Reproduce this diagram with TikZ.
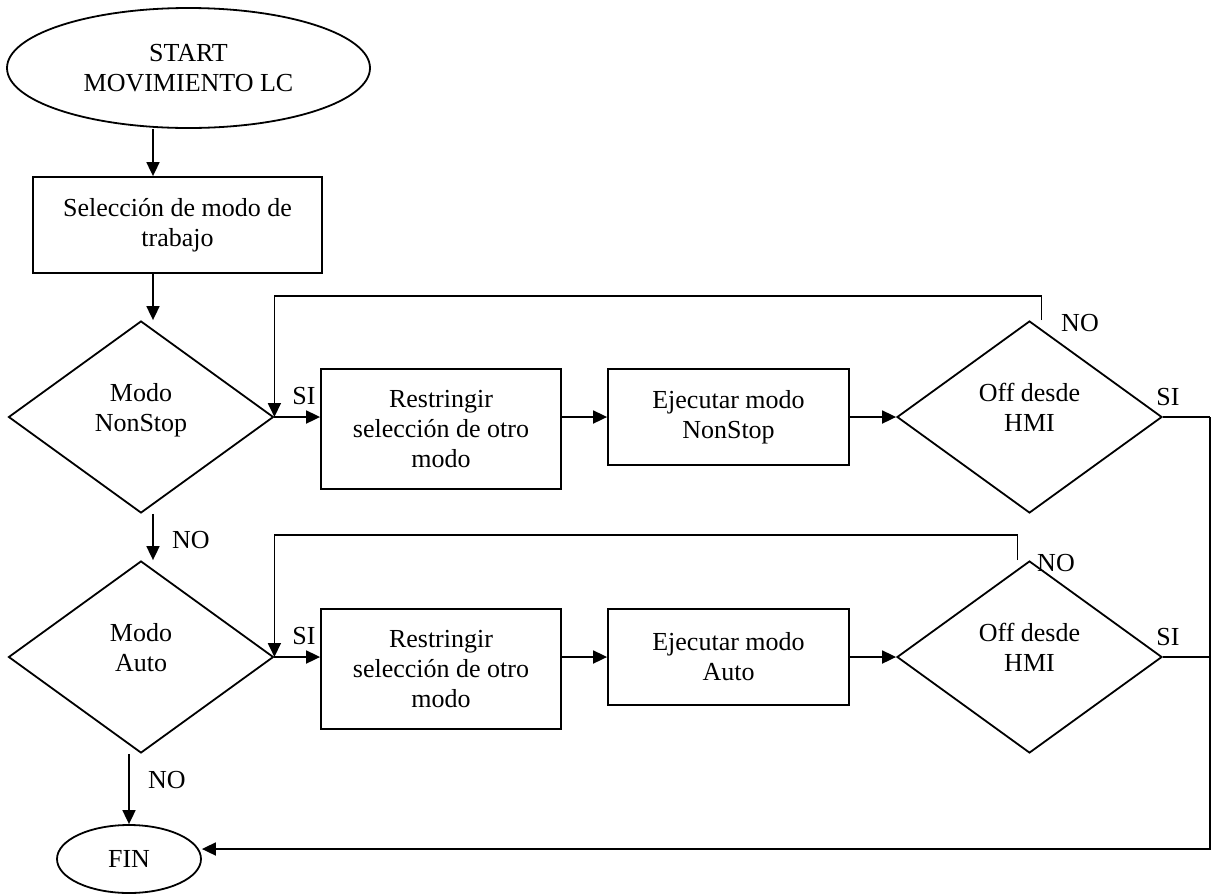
\documentclass[tikz,border=0pt]{standalone}
\usepackage{fontspec}
\setmainfont{Liberation Serif}
\usetikzlibrary{shapes.geometric,arrows.meta}
\begin{document}
\begin{tikzpicture}[x=1pt,y=-1pt,
  every node/.style={font=\fontsize{26}{30}\selectfont},
  line/.style={line width=1.8pt},
  arr/.style={line width=1.8pt,-{Triangle[length=14pt,width=13pt]}},
  term/.style={draw,ellipse,line width=1.8pt,inner sep=0pt,align=center},
  proc/.style={draw,rectangle,line width=1.8pt,inner sep=0pt,align=center},
  dec/.style={draw,diamond,aspect=1.38,line width=1.8pt,inner sep=0pt,align=center,
    text depth=19pt,minimum width=265pt,minimum height=192pt},
  lbl/.style={inner sep=0pt}]
\useasboundingbox (0,0) rectangle (1211,895);

% terminals
\node[term,minimum width=363pt,minimum height=120pt] (start) at (188.5,68) {START\\MOVIMIENTO LC};
\node[term,minimum width=144pt,minimum height=68pt] (fin) at (129,859) {FIN};

% mode selection
\node[proc,minimum width=289pt,minimum height=96pt] (sel) at (177.5,225) {Selección de modo de\\trabajo};

% NonStop branch
\node[dec] (d1) at (141,417) {Modo\\NonStop};
\node[proc,minimum width=240pt,minimum height=120pt] (r1) at (441,429) {Restringir\\selección de otro\\modo};
\node[proc,minimum width=241pt,minimum height=96pt] (e1) at (728.5,417) {Ejecutar modo\\NonStop};
\node[dec] (off1) at (1029.5,417) {Off desde\\HMI};

% Auto branch
\node[dec] (d2) at (141,657) {Modo\\Auto};
\node[proc,minimum width=240pt,minimum height=120pt] (r2) at (441,669) {Restringir\\selección de otro\\modo};
\node[proc,minimum width=241pt,minimum height=96pt] (e2) at (728.5,657) {Ejecutar modo\\Auto};
\node[dec] (off2) at (1029.5,657) {Off desde\\HMI};

% main vertical flow
\coordinate (cx) at (153,0);
\draw[arr] (start.south -| cx) -- (sel.north -| cx);
\draw[arr] (sel.south -| cx) -- (d1.north -| cx);
\draw[arr] (d1.south -| cx) -- (d2.north -| cx);
\draw[arr] (d2.south -| fin.north) -- (fin.north);

% NonStop row
\draw[arr] (d1.east) -- (r1.west |- d1.east);
\draw[arr] (r1.east |- e1.west) -- (e1.west);
\draw[arr] (e1.east) -- (off1.west);
\draw[arr] ([xshift=12pt]off1.north) -- ++(0,-24) -| (d1.east);

% Auto row
\draw[arr] (d2.east) -- (r2.west |- d2.east);
\draw[arr] (r2.east |- e2.west) -- (e2.west);
\draw[arr] (e2.east) -- (off2.west);
\draw[arr] ([xshift=-12pt]off2.north) -- ++(0,-25) -| (d2.east);

% exits to FIN
\draw[line] (off1.east) -- ++(47,0) coordinate (rt);
\draw[line] (off2.east) -- (off2.east -| rt);
\draw[arr] (rt) |- ([yshift=10pt]fin.east);

% branch labels
\node[lbl] (l1) at (304,396) {SI};
\node[lbl] (l2) at (1080,323) {NO};
\node[lbl] (l3) at (1168,397) {SI};
\node[lbl] (l4) at (191,540) {NO};
\node[lbl] (l5) at (304,636) {SI};
\node[lbl] (l6) at (1056,563) {NO};
\node[lbl] (l7) at (1168,637) {SI};
\node[lbl] (l8) at (167,780) {NO};
\end{tikzpicture}
\end{document}
